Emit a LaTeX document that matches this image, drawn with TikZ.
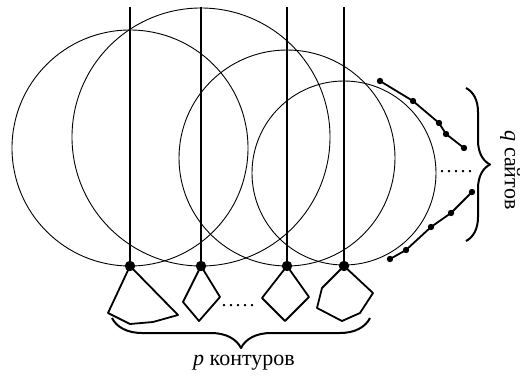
\documentclass[tikz,border=0pt]{standalone}
\usepackage{fontspec}
\setmainfont{Liberation Serif}
\usetikzlibrary{decorations.pathreplacing}

\newcommand{\fivedots}{.\kern1pt.\kern1pt.\kern1pt.\kern1pt.}

\begin{document}
\begin{tikzpicture}[x=0.5pt, y=-0.5pt, line join=round,
  ring/.style={line width=0.45pt},
  stem/.style={line width=1pt},
  contour/.style={line width=0.9pt},
  chain/.style={line width=0.9pt},
  brc/.style={decorate, decoration={brace, amplitude=#1}, line width=1pt}]
\useasboundingbox (0,0) rectangle (525,380);
% Окружности: центры O1..O4, все касаются снизу одной прямой
\coordinate (O1) at (130,148);
\coordinate (O2) at (201,137);
\coordinate (O3) at (287,158);
\coordinate (O4) at (344,173);
\foreach \c/\r in {O1/118, O2/129, O3/108, O4/92}
  \draw[ring] (\c) circle (\r);
% Точки крепления и вертикальные линии
\foreach \i/\x in {1/130, 2/201, 3/287, 4/344} {
  \coordinate (T\i) at (\x,7);
  \coordinate (P\i) at (\x,266);
  \draw[stem] (T\i) -- (P\i);
  \fill (P\i) circle (2.6pt);
}
% Контуры под точками
\draw[contour] (P1) -- (108,313) -- (130,324) -- (153,322) -- (178,315) -- cycle;
\draw[contour] (P2) -- (220,297) -- (199,321) -- (183,302) -- cycle;
\draw[contour] (P3) -- (309,297) -- (285,321) -- (262,298) -- cycle;
\draw[contour] (P4) -- (373,293) -- (360,313) -- (342,321) -- (317,308) -- (322,288) -- cycle;
\node (hdots) at (238,306) {\fivedots};
% Сайты справа
\draw[chain] (380,81) -- (413,101) -- (439,123) -- (446,134) -- (464,148);
\foreach \p in {(380,81), (413,101), (439,123), (446,134), (464,148)}
  \fill \p circle (1.6pt);
\draw[chain] (472,192) -- (451,213) -- (431,227) -- (406,250) -- (390,259);
\foreach \p in {(472,192), (451,213), (431,227), (406,250), (390,259)}
  \fill \p circle (1.6pt);
\node (vdots) at (456,172) {\fivedots};
% Фигурные скобки и подписи
\coordinate (B1) at (112,318);
\coordinate (B2) at (370,318);
\draw[brc=15pt] (B2) -- (B1);
\node[font=\fontsize{11}{13}\selectfont] (plab) at (244,363) {\textit{p} контуров};
\coordinate (C1) at (466,88);
\coordinate (C2) at (466,241);
\draw[brc=12pt] (C1) -- (C2);
\node[rotate=-90, font=\fontsize{11}{13}\selectfont] (qlab) at (510,170) {\textit{q} сайтов};
\end{tikzpicture}
\end{document}
